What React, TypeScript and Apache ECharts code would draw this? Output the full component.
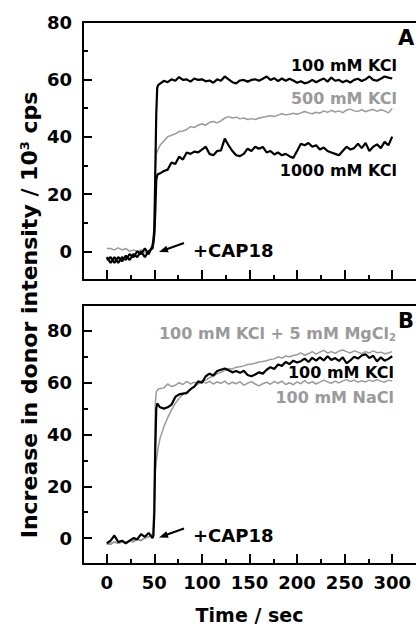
import React, { useEffect, useRef } from "react";
import * as echarts from "echarts";

// time points (sec)
const TIMES = [
  0, 4, 8, 12, 16, 20, 24, 28, 32, 36, 40, 44, 48,
  49, 50, 51, 52, 53, 54,
  56, 60, 64, 68, 72, 76, 80, 84, 88, 92,
  96, 100, 104, 108, 112, 116, 120, 124, 128, 132,
  136, 140, 144, 148, 152, 156, 160, 164, 168, 172,
  176, 180, 184, 188, 192, 196, 200, 204, 208, 212,
  216, 220, 224, 228, 232, 236, 240, 244, 248, 252,
  256, 260, 264, 268, 272, 276, 280, 284, 288, 292,
  296, 300,
];

// Panel A
const A_KCL100 = [
  -2, -4, -2, -4, -2, -3, -1, -2, 0, -1, 1, -1, 2,
  4, 8, 28, 48, 57, 58,
  58.5, 59.5, 59, 60, 59.5, 60.8, 59.8, 60, 59.2, 60.3,
  59.8, 60, 59.3, 59.6, 58.8, 60, 59.5, 61, 60, 59,
  58.6, 59.6, 59.8, 59.2, 59.8, 60, 59.5, 60.2, 61, 59.8,
  60.4, 59.4, 60.3, 59.5, 60.2, 59.6, 58.8, 59.3, 58.6, 59,
  59.8, 59, 59.7, 60.3, 59.2, 60.6, 59.5, 59.8, 59, 59.6,
  58.9, 59.8, 60.2, 59.4, 60, 61, 59.8, 59.5, 60.2, 61,
  60.6, 60.3,
];
const A_KCL500 = [
  1, 1, 0.5, 1.2, 0.5, 1, 0, 0.5, 0, 0.5, -0.5, 0, 1.5,
  3, 9, 30, 34, 35, 35.5,
  37, 38.5, 40, 40.5, 41, 41.8, 42, 42.5, 43.5, 43.2,
  44, 44.5, 44, 45, 45.3, 44.8, 45.5, 46.5, 47, 46.5,
  46.8, 46.2, 46.5, 46, 46.3, 46, 46.5, 46.8, 47, 47.3,
  47, 47.5, 48, 47.6, 47.8, 48.2, 47.8, 48.3, 48.8, 48.3,
  48, 48.5, 48.2, 49, 48.5, 49.2, 48.6, 49, 48.4, 49.3,
  49.6, 49, 48.8, 49.4, 48.7, 49.2, 49.5, 48.8, 49.4, 49,
  48.3, 49.8,
];
const A_KCL1000 = [
  -3, -2, -4, -2, -3.5, -1.5, -3, -1, -2, 0, -2, 0, 1,
  3, 6, 14, 25, 26.5, 27,
  27.2, 28, 28.5, 31, 30.5, 33, 32, 34.5, 34, 34.8,
  34.5, 35.5, 36.5, 34, 33.5, 35, 35.2, 39.3, 37, 35,
  33.5, 33.2, 34, 35.8, 35, 36.5, 35.8, 36.4, 34.5, 35,
  33.8, 34.5, 33.5, 34, 33.2, 32.6, 35, 37.5, 37, 37.8,
  36.5, 37, 35.5, 36.2, 35, 34.5, 34, 33.5, 35, 36.5,
  35.5, 36, 37.5, 36, 37.8, 35, 36.5, 37.3, 36, 38.2,
  37, 40,
];

// Panel B
const B_KCL = [
  -2, -1, 1, -1.5, -1, -2, -1, 0, -0.5, 1.5, 0.5, 2, 0,
  1, 10, 35, 50, 52, 51.5,
  50.5, 50, 50.5, 51.5, 54.5, 55.5, 55.8, 56, 57.5, 58.5,
  60.5, 60, 62.5, 63.5, 62.8, 64.5, 65, 65.5, 64.8, 64,
  64.5, 63.8, 64.6, 63, 62.5, 63.2, 64, 63.5, 65, 66,
  65.3, 67, 66.5, 68, 67.2, 68.5, 67.8, 68.3, 69.3, 68,
  69.6, 68.5, 69.8, 68.6, 70.2, 68.8, 69.5, 68.4, 69.8, 67.5,
  68.6, 70, 69.3, 70.5, 71, 69.5, 70.4, 68.2, 69.8, 68.5,
  69.2, 70.2,
];
const B_NACL = [
  -2.5, -2, -1.5, -2, -1.5, -2, -1, -1.5, -0.5, -1, 0, 0.5, 1,
  5, 25, 52, 56.5, 57, 57.5,
  57.8, 58, 59.5, 58.5, 59, 60, 59.3, 60.5, 59.5, 60.2,
  59.6, 60.8, 59.8, 60.5, 59.5, 60.3, 59.8, 60.6, 59.4, 60.2,
  59.6, 60.4, 59, 59.8, 60.4, 59.5, 58.8, 59.6, 60.2, 59.4,
  60.5, 59.8, 60.6, 59.3, 60, 59.2, 60.3, 59.6, 60.8, 59.7,
  60.4, 59.5, 60.2, 61, 60.3, 59.8, 60.6, 59.9, 60.7, 61.2,
  60.4, 61, 60.2, 60.8, 60.3, 61, 60.5, 61.2, 60.6, 60.2,
  61, 60.6,
];
const B_MGCL = [
  -2, -2.5, -1.5, -2, -1.5, -1.8, -1.2, -1, -0.5, -0.8, 0, 0.5, 1.5,
  4, 15, 26, 30, 32, 35,
  38.5, 43, 46.5, 49.5, 52, 54, 55.5, 56.5, 57.5, 58.5,
  59.5, 60.5, 61, 62, 62.5, 63.5, 64, 64.8, 65.5, 65.3,
  66, 66.2, 66.5, 67, 67.2, 67.5, 68, 68.2, 68.5, 69,
  69.2, 70, 69.5, 70.3, 70, 70.5, 70.8, 71.5, 70.6, 71.2,
  72, 71, 71.8, 72.5, 71.5, 72, 71.3, 72.2, 72.6, 72,
  71.5, 72.3, 71.8, 71.2, 72, 71.5, 72.3, 71.6, 71.8, 71.2,
  71.5, 72,
];

// tick values
const X_MAJOR = [0, 50, 100, 150, 200, 250, 300];
const X_MINOR = [25, 75, 125, 175, 225, 275];
const Y_MAJOR = [0, 20, 40, 60, 80];
const Y_MINOR = [10, 30, 50, 70];

const FONT = "DejaVu Sans";
const BLACK = "#000";
const GREY = "#9a9a9a";

const pairs = (ys: number[]) => TIMES.map((t, i) => [t, ys[i]]);

function xAxes(grid: number, labels: boolean): any[] {
  const common = { gridIndex: grid, type: "value", min: -25, max: 325, splitLine: { show: false } };
  return [
    {
      ...common,
      position: "bottom",
      axisLine: { show: true, onZero: false, lineStyle: { color: BLACK, width: 2 } },
      axisTick: { show: true, inside: true, length: 10, customValues: X_MAJOR, lineStyle: { color: BLACK, width: 2 } },
      axisLabel: {
        show: labels,
        customValues: X_MAJOR,
        margin: 9,
        color: BLACK,
        fontFamily: FONT,
        fontWeight: "bold",
        fontSize: 18,
      },
      ...(labels
        ? {
            name: "Time / sec",
            nameLocation: "middle",
            nameGap: 41,
            nameTextStyle: { color: BLACK, fontFamily: FONT, fontWeight: "bold", fontSize: 19 },
          }
        : {}),
    },
    {
      ...common,
      position: "bottom",
      axisLine: { show: false, onZero: false },
      axisTick: { show: true, inside: true, length: 5, customValues: X_MINOR, lineStyle: { color: BLACK, width: 2 } },
      axisLabel: { show: false },
    },
    {
      ...common,
      position: "top",
      axisLine: { show: true, onZero: false, lineStyle: { color: BLACK, width: 2 } },
      axisTick: { show: false },
      axisLabel: { show: false },
    },
  ];
}

function yAxes(grid: number, max: number): any[] {
  const common = { gridIndex: grid, type: "value", min: -10, max, splitLine: { show: false } };
  return [
    {
      ...common,
      position: "left",
      axisLine: { show: true, onZero: false, lineStyle: { color: BLACK, width: 2 } },
      axisTick: { show: true, inside: true, length: 9, customValues: Y_MAJOR, lineStyle: { color: BLACK, width: 2 } },
      axisLabel: {
        customValues: Y_MAJOR,
        margin: 11,
        color: BLACK,
        fontFamily: FONT,
        fontWeight: "bold",
        fontSize: 18,
      },
    },
    {
      ...common,
      position: "left",
      axisLine: { show: false, onZero: false },
      axisTick: { show: true, inside: true, length: 5, customValues: Y_MINOR, lineStyle: { color: BLACK, width: 2 } },
      axisLabel: { show: false },
    },
  ];
}

function line(name: string, ys: number[], xi: number, yi: number, color: string, width: number, z: number) {
  return {
    name,
    type: "line",
    xAxisIndex: xi,
    yAxisIndex: yi,
    data: pairs(ys),
    showSymbol: false,
    symbol: "none",
    z,
    lineStyle: { color, width },
  };
}

function label(text: string, right: number, y: number, color: string, extra: any = {}) {
  return {
    type: "text",
    x: right,
    y,
    z: 100,
    style: {
      text,
      fill: color,
      fontFamily: FONT,
      fontWeight: "bold",
      fontSize: 16,
      align: "right",
      verticalAlign: "middle",
      ...extra,
    },
  };
}

function arrow(tipX: number, tipY: number, tailX: number, tailY: number): any[] {
  const dx = tailX - tipX;
  const dy = tailY - tipY;
  const len = Math.sqrt(dx * dx + dy * dy);
  const ux = dx / len;
  const uy = dy / len;
  const hl = 9;
  const hw = 3.5;
  const bx = tipX + ux * hl;
  const by = tipY + uy * hl;
  return [
    {
      type: "line",
      z: 100,
      shape: { x1: bx - ux * 1, y1: by - uy * 1, x2: tailX, y2: tailY },
      style: { stroke: BLACK, lineWidth: 2 },
    },
    {
      type: "polygon",
      z: 100,
      shape: {
        points: [
          [tipX, tipY],
          [bx - uy * hw, by + ux * hw],
          [bx + uy * hw, by - ux * hw],
        ],
      },
      style: { fill: BLACK },
    },
  ];
}

export default function App() {
  const ref = useRef<HTMLDivElement>(null);

  useEffect(() => {
    document.body.style.margin = "0";
    document.body.style.overflow = "hidden";
    if (!ref.current) return;
    const chart = echarts.init(ref.current, null, { renderer: "svg" });
    const option: any = {
      animation: false,
      backgroundColor: "#fff",
      grid: [
        { left: 83, right: -5, top: 22, height: 258 },
        { left: 83, right: -5, top: 305, height: 259 },
      ],
      xAxis: [...xAxes(0, false), ...xAxes(1, true)],
      yAxis: [...yAxes(0, 80), ...yAxes(1, 90)],
      series: [
        line("500 mM KCl", A_KCL500, 0, 0, GREY, 1.5, 2),
        line("100 mM KCl", A_KCL100, 0, 0, BLACK, 2.2, 3),
        line("1000 mM KCl", A_KCL1000, 0, 0, BLACK, 2.2, 3),
        line("100 mM KCl + 5 mM MgCl2", B_MGCL, 3, 2, GREY, 1.5, 2),
        line("100 mM NaCl", B_NACL, 3, 2, GREY, 1.5, 2),
        line("100 mM KCl (B)", B_KCL, 3, 2, BLACK, 2.2, 3),
      ],
      graphic: [
        {
          type: "text",
          x: 29,
          y: 315,
          rotation: Math.PI / 2,
          z: 100,
          style: {
            text: "Increase in donor intensity / 10{sup|3} cps",
            fill: BLACK,
            fontFamily: FONT,
            fontWeight: "bold",
            fontSize: 22,
            align: "center",
            verticalAlign: "middle",
            rich: {
              sup: { fontFamily: FONT, fontWeight: "bold", fontSize: 13, verticalAlign: "top", fill: BLACK },
            },
          },
        },
        {
          type: "text",
          x: 398,
          y: 38,
          z: 100,
          style: { text: "A", fill: BLACK, fontFamily: FONT, fontWeight: "bold", fontSize: 21, align: "left", verticalAlign: "middle" },
        },
        {
          type: "text",
          x: 398,
          y: 321,
          z: 100,
          style: { text: "B", fill: BLACK, fontFamily: FONT, fontWeight: "bold", fontSize: 21, align: "left", verticalAlign: "middle" },
        },
        label("100 mM KCl", 397, 65, BLACK),
        label("500 mM KCl", 397, 98, GREY),
        label("1000 mM KCl", 397, 170, BLACK),
        label("100 mM KCl + 5 mM MgCl{sub|2}", 396, 333, GREY, {
          rich: { sub: { fontFamily: FONT, fontWeight: "bold", fontSize: 10, verticalAlign: "bottom", fill: GREY, padding: [8, 0, 0, 0] } },
        }),
        label("100 mM KCl", 394, 372, BLACK),
        label("100 mM NaCl", 394, 397, GREY),
        {
          type: "text",
          x: 193,
          y: 250,
          z: 100,
          style: { text: "+CAP18", fill: BLACK, fontFamily: FONT, fontWeight: "bold", fontSize: 18, align: "left", verticalAlign: "middle" },
        },
        {
          type: "text",
          x: 193,
          y: 535,
          z: 100,
          style: { text: "+CAP18", fill: BLACK, fontFamily: FONT, fontWeight: "bold", fontSize: 18, align: "left", verticalAlign: "middle" },
        },
        ...arrow(159, 252, 184, 243),
        ...arrow(159, 537.5, 184, 528.5),
      ],
    };
    chart.setOption(option);
    return () => chart.dispose();
  }, []);

  return (
    <div
      ref={ref}
      style={{ position: "absolute", left: 0, top: 0, width: 416, height: 625, background: "#fff" }}
    />
  );
}
